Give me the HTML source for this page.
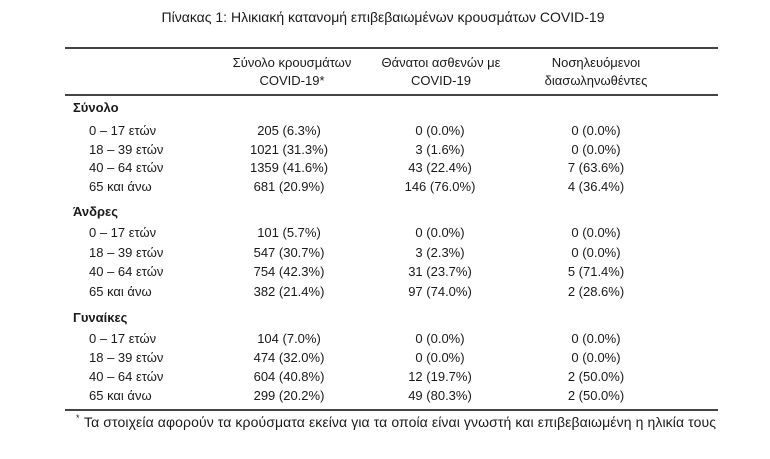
<!DOCTYPE html>
<html><head><meta charset="utf-8"><style>
body{margin:0;width:770px;height:459px;background:#fff;font-family:"Liberation Sans","DejaVu Sans",sans-serif;color:#1a1a1a;position:relative;overflow:hidden}
.t{position:absolute;font-size:13px;white-space:nowrap;line-height:14px}
.c{transform:translateX(-50%)}
.b{font-weight:bold}
.r{position:absolute;left:65px;width:653px;background:#444}
</style></head><body>
<div class="t c" style="left:383px;top:10px;font-size:14px">Πίνακας 1: Ηλικιακή κατανομή επιβεβαιωμένων κρουσμάτων COVID-19</div>
<div class="r" style="top:47px;height:2px"></div>
<div class="t c" style="left:292px;top:56px">Σύνολο κρουσμάτων</div>
<div class="t c" style="left:292px;top:74px">COVID-19*</div>
<div class="t c" style="left:441px;top:56px">Θάνατοι ασθενών με</div>
<div class="t c" style="left:441px;top:74px">COVID-19</div>
<div class="t c" style="left:596px;top:56px">Νοσηλευόμενοι</div>
<div class="t c" style="left:596px;top:74px">διασωληνωθέντες</div>
<div class="r" style="top:94px;height:2px"></div>

<div class="t b" style="left:73px;top:101px">Σύνολο</div>
<div class="t" style="left:89px;top:124px">0 – 17 ετών</div><div class="t c" style="left:289px;top:124px">205 (6.3%)</div><div class="t c" style="left:440px;top:124px">0 (0.0%)</div><div class="t c" style="left:596px;top:124px">0 (0.0%)</div>
<div class="t" style="left:89px;top:143px">18 – 39 ετών</div><div class="t c" style="left:289px;top:143px">1021 (31.3%)</div><div class="t c" style="left:440px;top:143px">3 (1.6%)</div><div class="t c" style="left:596px;top:143px">0 (0.0%)</div>
<div class="t" style="left:89px;top:161px">40 – 64 ετών</div><div class="t c" style="left:289px;top:161px">1359 (41.6%)</div><div class="t c" style="left:440px;top:161px">43 (22.4%)</div><div class="t c" style="left:596px;top:161px">7 (63.6%)</div>
<div class="t" style="left:89px;top:180px">65 και άνω</div><div class="t c" style="left:289px;top:180px">681 (20.9%)</div><div class="t c" style="left:440px;top:180px">146 (76.0%)</div><div class="t c" style="left:596px;top:180px">4 (36.4%)</div>

<div class="t b" style="left:73px;top:205px">Άνδρες</div>
<div class="t" style="left:89px;top:226px">0 – 17 ετών</div><div class="t c" style="left:289px;top:226px">101 (5.7%)</div><div class="t c" style="left:440px;top:226px">0 (0.0%)</div><div class="t c" style="left:596px;top:226px">0 (0.0%)</div>
<div class="t" style="left:89px;top:246px">18 – 39 ετών</div><div class="t c" style="left:289px;top:246px">547 (30.7%)</div><div class="t c" style="left:440px;top:246px">3 (2.3%)</div><div class="t c" style="left:596px;top:246px">0 (0.0%)</div>
<div class="t" style="left:89px;top:265px">40 – 64 ετών</div><div class="t c" style="left:289px;top:265px">754 (42.3%)</div><div class="t c" style="left:440px;top:265px">31 (23.7%)</div><div class="t c" style="left:596px;top:265px">5 (71.4%)</div>
<div class="t" style="left:89px;top:285px">65 και άνω</div><div class="t c" style="left:289px;top:285px">382 (21.4%)</div><div class="t c" style="left:440px;top:285px">97 (74.0%)</div><div class="t c" style="left:596px;top:285px">2 (28.6%)</div>

<div class="t b" style="left:73px;top:311px">Γυναίκες</div>
<div class="t" style="left:89px;top:332px">0 – 17 ετών</div><div class="t c" style="left:289px;top:332px">104 (7.0%)</div><div class="t c" style="left:440px;top:332px">0 (0.0%)</div><div class="t c" style="left:596px;top:332px">0 (0.0%)</div>
<div class="t" style="left:89px;top:351px">18 – 39 ετών</div><div class="t c" style="left:289px;top:351px">474 (32.0%)</div><div class="t c" style="left:440px;top:351px">0 (0.0%)</div><div class="t c" style="left:596px;top:351px">0 (0.0%)</div>
<div class="t" style="left:89px;top:370px">40 – 64 ετών</div><div class="t c" style="left:289px;top:370px">604 (40.8%)</div><div class="t c" style="left:440px;top:370px">12 (19.7%)</div><div class="t c" style="left:596px;top:370px">2 (50.0%)</div>
<div class="t" style="left:89px;top:389px">65 και άνω</div><div class="t c" style="left:289px;top:389px">299 (20.2%)</div><div class="t c" style="left:440px;top:389px">49 (80.3%)</div><div class="t c" style="left:596px;top:389px">2 (50.0%)</div>
<div class="r" style="top:409px;height:2px"></div>
<div class="t" style="left:76px;top:411px;font-size:9px">*</div>
<div class="t" style="left:84px;top:415px;font-size:14px;letter-spacing:0.1px">Τα στοιχεία αφορούν τα κρούσματα εκείνα για τα οποία είναι γνωστή και επιβεβαιωμένη η ηλικία τους</div>
</body></html>
